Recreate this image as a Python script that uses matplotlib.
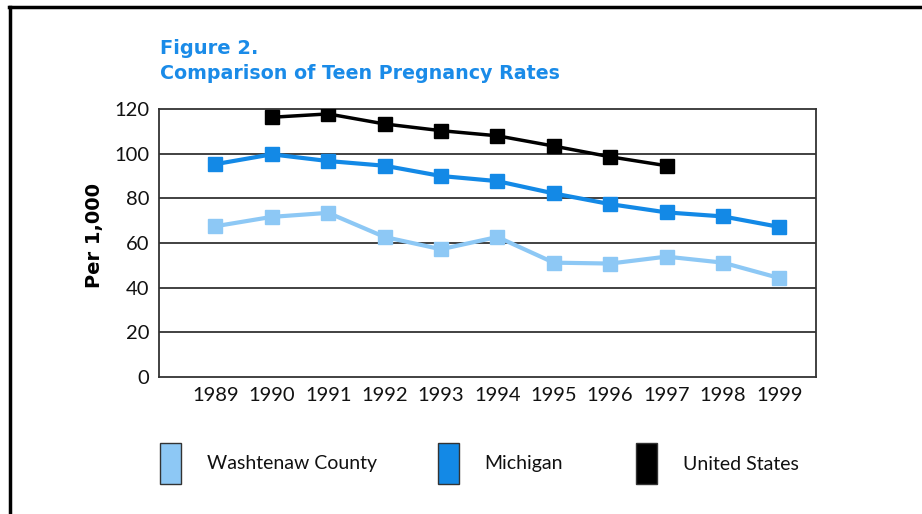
import matplotlib
matplotlib.use("Agg")
import matplotlib.pyplot as plt
from matplotlib.patches import Rectangle
from matplotlib.lines import Line2D

years = [1989, 1990, 1991, 1992, 1993, 1994, 1995, 1996, 1997, 1998, 1999]
washtenaw = [67.5, 71.7, 73.5, 62.7, 57.2, 62.7, 51.2, 50.8, 53.9, 51.2, 44.3]
michigan = [95.3, 99.7, 96.7, 94.6, 90.0, 87.7, 82.2, 77.4, 73.7, 71.9, 67.2]
us_years = [1990, 1991, 1992, 1993, 1994, 1995, 1996, 1997]
united_states = [116.3, 117.8, 113.3, 110.3, 108.0, 103.4, 98.6, 94.6]
series_names = ["Washtenaw County", "Michigan", "United States"]
yticks = [0, 20, 40, 60, 80, 100, 120]

c_wash = "#8DC8F5"
c_mich = "#1389E6"
c_us = "#000000"
title_color = "#1A8BE8"

W, H = 922, 514
fig = plt.figure(figsize=(W / 100, H / 100), dpi=100)
fig.patch.set_facecolor("white")

def fx(px):
    return px / W

def fy(py):
    return 1 - py / H

ax = fig.add_axes([fx(159), fy(377), fx(816) - fx(159), fy(109) - fy(377)])
ax.set_xlim(1988.0, 1999.65)
ax.set_ylim(0, 120)
ax.set_yticks(yticks)
ax.set_xticks(years)
ax.set_xticklabels([str(y) for y in years])
for v in yticks[1:-1]:
    ax.axhline(v, color="#333333", lw=1.3, zorder=1)
for s in ax.spines.values():
    s.set_color("#333333")
    s.set_linewidth(1.3)
ax.tick_params(axis="both", length=0, labelsize=14.5, colors="#111111")
ax.tick_params(axis="y", pad=7)
ax.tick_params(axis="x", pad=7)
for lab in ax.get_xticklabels() + ax.get_yticklabels():
    lab.set_family("Lato")

kw = dict(marker="s", markersize=9.5, lw=3, zorder=3)
ax.plot(years, washtenaw, color=c_wash, **kw)
ax.plot(years, michigan, color=c_mich, **kw)
ax.plot(us_years, united_states, color=c_us, lw=2.5, marker="s", markersize=9.5, zorder=4)

ax.set_ylabel("Per 1,000", fontsize=14, fontweight="bold", family="DejaVu Sans")
ax.yaxis.set_label_coords((95 - 159) / 657, (377 - 235) / 268)
ax.yaxis.label.set_va("center")

fig.text(fx(160), fy(49), "Figure 2.", fontsize=14, fontweight="bold", color=title_color,
         family="DejaVu Sans", va="center", ha="left")
fig.text(fx(160), fy(74), "Comparison of Teen Pregnancy Rates", fontsize=13.7, fontweight="bold",
         color=title_color, family="DejaVu Sans", va="center", ha="left")

# legend
leg_items = [(160, 207, c_wash), (438, 484, c_mich), (636, 683, c_us)]
for (px, tx, col), name in zip(leg_items, series_names):
    fig.patches.append(Rectangle((fx(px), fy(484)), fx(21), fy(443) - fy(484),
                                 transform=fig.transFigure, facecolor=col,
                                 edgecolor="#333333", lw=1))
    fig.text(fx(tx), fy(464), name, fontsize=14, family="Lato", va="center", ha="left",
             color="#111111")

# frame
fig.add_artist(Line2D([fx(9), 1.0], [fy(6.5), fy(6.5)], color="black", lw=2.5,
                      transform=fig.transFigure))
fig.add_artist(Line2D([fx(9.5), fx(9.5)], [fy(6.5), 0], color="black", lw=2.5,
                      transform=fig.transFigure))

fig.savefig("out.png", dpi=100)
